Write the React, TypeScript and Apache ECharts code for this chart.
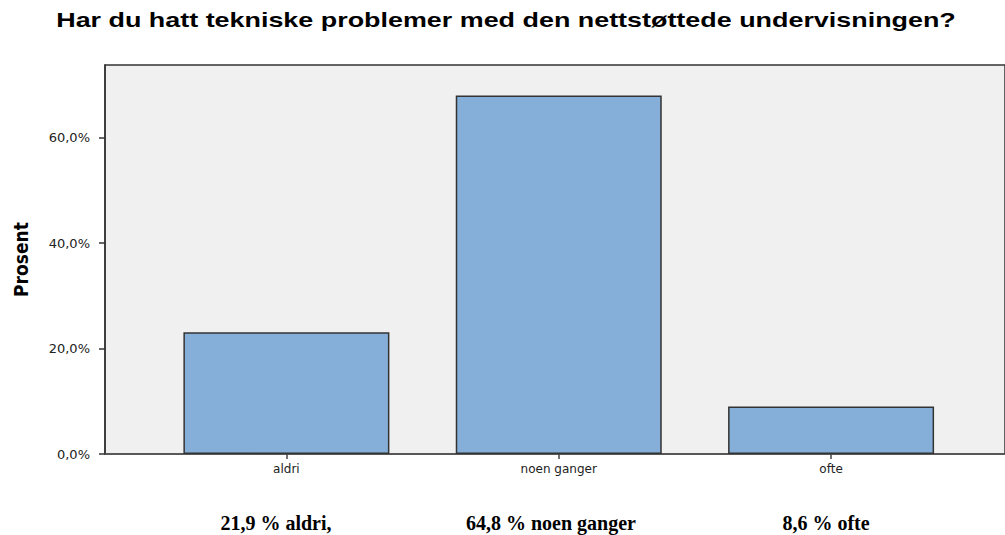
import React, { useEffect, useRef } from "react";
import * as echarts from "echarts";

const title = "Har du hatt tekniske problemer med den nettstøttede undervisningen?";
const categories = ["aldri", "noen ganger", "ofte"];
const percentValues = [23.1, 68.0, 9.0];
const yAxisName = "Prosent";
const yTicks = [0, 20, 40, 60];
const footnotes = ["21,9 % aldri,", "64,8 % noen ganger", "8,6 % ofte"];
const footnoteX = [276, 551, 826];

export default function App() {
  const ref = useRef<HTMLDivElement>(null);

  useEffect(() => {
    document.body.style.margin = "0";
    if (!ref.current) return;
    const chart = echarts.init(ref.current, undefined, { renderer: "svg" });
    const idx = categories.map((_, i) => i);
    const option: any = {
      animation: false,
      backgroundColor: "#ffffff",
      grid: {
        left: 105,
        top: 65,
        right: -3,
        bottom: 81,
        show: true,
        backgroundColor: "#F0F0F0",
        borderColor: "#333333",
        borderWidth: 1.5,
      },
      xAxis: {
        type: "value",
        min: -0.6661,
        max: 2.6386,
        splitLine: { show: false },
        axisLine: { show: true, onZero: false, lineStyle: { color: "#555555", width: 1.5 } },
        axisTick: {
          show: true,
          customValues: idx,
          length: 5,
          lineStyle: { color: "#444444", width: 1.5 },
        },
        axisLabel: {
          customValues: idx,
          formatter: (v: number) => categories[Math.round(v)] ?? "",
          fontFamily: "DejaVu Sans",
          fontSize: 12,
          color: "#222222",
          margin: 9,
        },
      },
      yAxis: {
        type: "value",
        min: 0,
        max: 73.8,
        interval: 20,
        splitLine: { show: false },
        axisLine: { show: true, onZero: false, lineStyle: { color: "#333333", width: 1.5 } },
        axisTick: {
          show: true,
          customValues: yTicks,
          length: 6,
          lineStyle: { color: "#333333", width: 1.5 },
        },
        axisLabel: {
          customValues: yTicks,
          formatter: (v: number) => v.toFixed(1).replace(".", ",") + "%",
          fontFamily: "DejaVu Sans",
          fontSize: 13,
          color: "#222222",
          margin: 15,
        },
        name: yAxisName,
        nameLocation: "middle",
        nameRotate: 90,
        nameGap: 75,
        nameTextStyle: {
          fontFamily: "'Liberation Sans Narrow', 'DejaVu Sans Condensed', sans-serif",
          fontWeight: "bold",
          fontSize: 19,
          color: "#000000",
        },
      },
      series: [
        {
          type: "bar",
          data: percentValues.map((v, i) => [i, v]),
          barWidth: 206,
          itemStyle: { color: "#85AFD8", borderColor: "#333333", borderWidth: 1.5 },
        },
      ],
      graphic: [
        {
          type: "text",
          x: 506,
          y: 20,
          scaleX: 1.38,
          style: {
            text: title,
            align: "center",
            verticalAlign: "middle",
            fontFamily: "'Liberation Sans', Arial, sans-serif",
            fontWeight: "bold",
            fontSize: 19.5,
            fill: "#000000",
          },
        },
        ...footnotes.map((t, i) => ({
          type: "text",
          x: footnoteX[i],
          y: 523,
          style: {
            text: t,
            align: "center",
            verticalAlign: "middle",
            fontFamily: "'Liberation Serif', 'Times New Roman', serif",
            fontWeight: "bold",
            fontSize: 20,
            fill: "#000000",
          },
        })),
      ],
    };
    chart.setOption(option);
    return () => chart.dispose();
  }, []);

  return <div ref={ref} style={{ width: 1005, height: 535 }} />;
}
